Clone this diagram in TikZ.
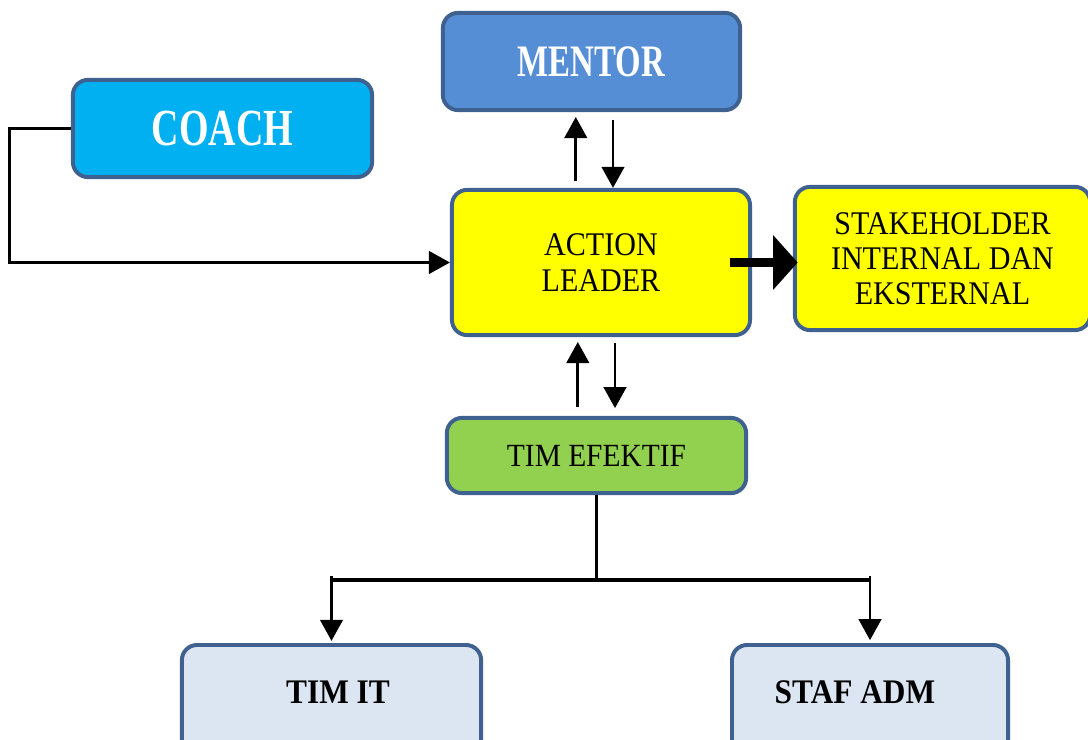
\documentclass[tikz,border=0pt]{standalone}
\usepackage{fontspec}
\setmainfont{Liberation Serif}
\newfontfamily\narrowserif[FakeStretch=0.73]{Liberation Serif}
\newfontfamily\slimserif[FakeStretch=0.91]{Liberation Serif}
\usepackage{tikz}
\usetikzlibrary{arrows.meta}

\definecolor{boxline}{HTML}{3F6190}
\definecolor{mentorblue}{HTML}{558ED5}
\definecolor{coachblue}{HTML}{00B0F0}
\definecolor{leaderyellow}{HTML}{FFFF00}
\definecolor{teamgreen}{HTML}{92D050}
\definecolor{staffgrey}{HTML}{DCE6F2}

\begin{document}
\begin{tikzpicture}[x=0.025cm, y=-0.025cm,
	box/.style={draw=boxline, line width=2.8pt, rounded corners=0.38cm,
		align=center, inner sep=0pt},
	link/.style={line width=2pt, -{Triangle[length=15pt, width=16pt]}}]
	\useasboundingbox (0,0) rectangle (1088,740);
	\clip (0,0) rectangle (1088,740);

	% boxes
	\node[box, fill=mentorblue, minimum width=7.43cm, minimum height=2.43cm,
		text=white, font=\narrowserif\fontsize{32}{36}\selectfont\bfseries] (mentor) at (591.5,61.5) {MENTOR};
	\node[box, fill=coachblue, minimum width=7.48cm, minimum height=2.43cm,
		text=white, font=\narrowserif\fontsize{37}{40}\selectfont\bfseries] (coach) at (222.5,128.5) {COACH};
	\node[box, fill=leaderyellow, minimum width=7.45cm, minimum height=3.63cm,
		font=\slimserif\fontsize{23.5}{25.5}\selectfont] (leader) at (601,262.5) {ACTION\\LEADER};
	\node[box, fill=leaderyellow, minimum width=7.38cm, minimum height=3.58cm,
		font=\slimserif\fontsize{23.5}{24.8}\selectfont] (stake) at (942.5,258.5) {STAKEHOLDER\\INTERNAL DAN\\EKSTERNAL};
	\node[box, fill=teamgreen, minimum width=7.48cm, minimum height=1.88cm,
		font=\slimserif\fontsize{23}{25}\selectfont] (efektif) at (596.5,455.5) {TIM EFEKTIF};
	\node[box, fill=staffgrey, minimum width=7.48cm, minimum height=3cm] (timit) at (331.5,705) {};
	\node[box, fill=staffgrey, minimum width=6.9cm, minimum height=3cm] (staf) at (870,705) {};
	\node[font=\slimserif\fontsize{24.5}{26}\selectfont\bfseries] (timitlabel) at (338,692) {TIM IT};
	\node[font=\slimserif\fontsize{24.5}{26}\selectfont\bfseries] (staflabel) at (855,692) {STAF ADM};

	% coach to leader
	\draw[link] (coach.west) -- ++(-61,0) |- (leader.west);

	% mentor and leader
	\draw[link, shorten <=5pt, shorten >=3.5pt] ([xshift=-0.63cm]leader.north) -- ([xshift=-0.63cm]leader.north |- mentor.south);
	\draw[link, shorten <=5.5pt] ([xshift=0.3cm]leader.north |- mentor.south) -- ([xshift=0.3cm]leader.north);

	% leader and team
	\draw[link, shorten <=6.5pt, shorten >=3.5pt] ([xshift=-0.58cm]leader.north |- efektif.north) -- ([xshift=-0.58cm]leader.south);
	\draw[link, shorten <=4pt, shorten >=5.5pt] ([xshift=0.35cm]leader.south) -- ([xshift=0.35cm]leader.south |- efektif.north);

	% leader to stakeholders
	\draw[line width=5.7pt, -{Triangle[length=17.5pt, width=38pt]}] ([xshift=-0.55cm]leader.east) -- ([xshift=0.12cm]stake.west |- leader.east);

	% team to staff
	\draw[line width=2pt] (efektif.south) -- ++(0,85) coordinate (fork);
	\draw[line width=2.8pt] (fork -| timit.north) -- (fork -| staf.north);
	\draw[link, shorten >=1.5pt] ([yshift=3pt]fork -| timit.north) -- (timit.north);
	\draw[link, shorten >=2pt] ([yshift=3pt]fork -| staf.north) -- (staf.north);
\end{tikzpicture}
\end{document}
